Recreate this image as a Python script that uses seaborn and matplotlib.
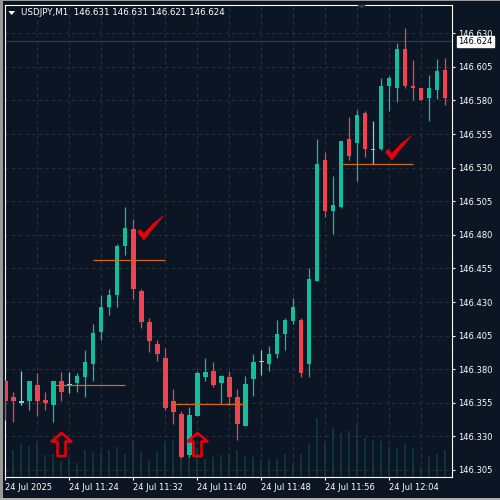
import numpy as np
import pandas as pd
import matplotlib
matplotlib.use('Agg')
import matplotlib.pyplot as plt
from matplotlib.path import Path
from matplotlib.patches import Polygon, Rectangle
import seaborn as sns

# USDJPY M1, 24 Jul 2025 from 11:16
opens = [146.371, 146.359, 146.355, 146.356, 146.368, 146.357, 146.353, 146.371, 146.368, 146.370,
         146.374, 146.384, 146.408, 146.426, 146.435, 146.472, 146.484, 146.438, 146.415, 146.399,
         146.388, 146.356, 146.347, 146.316, 146.345, 146.374, 146.379, 146.370, 146.374, 146.359,
         146.338, 146.373, 146.385, 146.384, 146.391, 146.406, 146.416, 146.417, 146.384, 146.446,
         146.536, 146.498, 146.501, 146.551, 146.548, 146.571, 146.543, 146.544, 146.591, 146.589,
         146.618, 146.591, 146.589, 146.582, 146.588, 146.603]
highs = [146.372, 146.363, 146.379, 146.371, 146.377, 146.363, 146.371, 146.378, 146.378, 146.377,
         146.394, 146.414, 146.435, 146.440, 146.473, 146.501, 146.492, 146.440, 146.418, 146.402,
         146.396, 146.365, 146.349, 146.352, 146.379, 146.388, 146.385, 146.376, 146.379, 146.365,
         146.375, 146.391, 146.394, 146.397, 146.417, 146.418, 146.433, 146.418, 146.455, 146.551,
         146.542, 146.524, 146.550, 146.568, 146.573, 146.572, 146.565, 146.597, 146.598, 146.623,
         146.634, 146.610, 146.589, 146.599, 146.611, 146.612]
lows = [146.342, 146.341, 146.353, 146.350, 146.345, 146.350, 146.341, 146.356, 146.362, 146.363,
        146.359, 146.371, 146.402, 146.420, 146.426, 146.465, 146.432, 146.411, 146.393, 146.386,
        146.350, 146.339, 146.314, 146.315, 146.345, 146.371, 146.367, 146.355, 146.353, 146.327,
        146.338, 146.360, 146.376, 146.379, 146.388, 146.394, 146.414, 146.374, 146.374, 146.446,
        146.493, 146.481, 146.500, 146.536, 146.520, 146.538, 146.533, 146.543, 146.572, 146.579,
        146.589, 146.580, 146.580, 146.565, 146.581, 146.577]
closes = [146.356, 146.356, 146.356, 146.371, 146.356, 146.355, 146.371, 146.363, 146.369, 146.375,
          146.385, 146.407, 146.426, 146.435, 146.472, 146.485, 146.440, 146.415, 146.401, 146.391,
          146.351, 146.348, 146.315, 146.346, 146.377, 146.378, 146.368, 146.375, 146.359, 146.339,
          146.369, 146.385, 146.386, 146.391, 146.406, 146.417, 146.426, 146.377, 146.447, 146.533,
          146.498, 146.502, 146.550, 146.539, 146.569, 146.544, 146.544, 146.591, 146.597, 146.618,
          146.591, 146.589, 146.580, 146.589, 146.602, 146.582]
volumes = [47, 45, 56, 52, 59, 37, 39, 27, 32, 23, 45, 40, 42, 45, 50, 39, 62, 42, 27, 42,
           59, 62, 54, 51, 48, 30, 33, 37, 40, 45, 35, 33, 28, 30, 30, 39, 22, 39, 56, 100,
           59, 83, 74, 78, 90, 66, 62, 61, 52, 49, 56, 49, 18, 35, 39, 45]

x_tick_labels = ['24 Jul 2025', '24 Jul 11:24', '24 Jul 11:32', '24 Jul 11:40',
                 '24 Jul 11:48', '24 Jul 11:56', '24 Jul 12:04']
price_ticks = [146.305, 146.330, 146.355, 146.380, 146.405, 146.430, 146.455,
               146.480, 146.505, 146.530, 146.555, 146.580, 146.605, 146.630]

# current bar shown in the header: O H L C
last_bar = [146.631, 146.631, 146.621, 146.624]

# drawn objects on the chart
level_prices = [146.461, 146.368, 146.354, 146.533]
level_start = [11.0, 6.0, 20.9, 42.1]
level_end = [20.0, 15.0, 30.0, 51.0]
arrow_idx = [7.0, 24.0]
arrow_price = [146.324, 146.324]
check_idx = [18.1, 49.1]
check_price = [146.485, 146.545]

bg = '#0c1524'
grid_col = '#243145'
bull = '#10bf9f'
bear = '#f4414b'
doji = '#6be0d2'
vol_col = '#0e3637'
level_col = '#d0691f'
mark_col = '#e8000b'

df = pd.DataFrame({'open': opens, 'high': highs, 'low': lows,
                   'close': closes, 'volume': volumes})
df['i'] = np.arange(len(df))
diff = df['close'] - df['open']
df['color'] = np.where(diff.abs() < 0.0012, doji, np.where(diff > 0, bull, bear))

sns.set_style('dark', rc={'axes.facecolor': bg, 'figure.facecolor': bg,
                          'axes.edgecolor': 'white', 'text.color': 'white',
                          'xtick.color': 'white', 'ytick.color': 'white'})
plt.rcParams['font.family'] = ['DejaVu Sans']

fig = plt.figure(figsize=(5, 5), dpi=100)
pos = [4.7 / 500, 23.3 / 500, 447.6 / 500, 472 / 500]
xlim = (-0.04, 55.91)

# volume in the background
ax_v = fig.add_axes(pos)
sns.barplot(data=df, x='i', y='volume', native_scale=True, width=0.15,
            color=vol_col, saturation=1, linewidth=0, errorbar=None, ax=ax_v)
ax_v.set_xlim(xlim)
ax_v.set_ylim(0, 802)
ax_v.axis('off')

ax = fig.add_axes(pos)
ax.patch.set_alpha(0)
ax.set_xlim(xlim)
ax.set_ylim(146.300, 146.6513)

for p in price_ticks:
    ax.axhline(p, color=grid_col, lw=0.8, ls=(0, (3, 3)), zorder=1)
for k in range(4, 56, 4):
    ax.axvline(k, color=grid_col, lw=0.8, ls=(0, (3, 3)), zorder=1)

ax.axhline(last_bar[3], color='#2a3850', lw=0.9, zorder=1)

# candles
body_h = np.maximum(diff.abs(), 0.0008)
body_b = np.minimum(df['open'], df['close'])
ax.vlines(df['i'], df['low'], df['high'], colors=df['color'], lw=0.9, zorder=3)
ax.bar(df['i'], body_h, bottom=body_b, width=0.62, color=df['color'], linewidth=0, zorder=4)

for p, a, b in zip(level_prices, level_start, level_end):
    ax.hlines(p, a, b, color=level_col, lw=0.9, zorder=5)

arrow_path = Path([(0, 11.5), (10, 3), (4, 3), (4, -11.5), (-4, -11.5), (-4, 3), (-10, 3), (0, 11.5)],
                  closed=True)
ax.plot(arrow_idx, arrow_price, ls='none', marker=arrow_path, markersize=16.6,
        mfc='none', mec=mark_col, mew=1.8, zorder=6)

check_path = Path([(-13, -3.5), (-10.5, -1), (-6.5, -5), (3, 5), (12.5, 12.5), (0, -3),
                   (-6.5, -11.5), (-13, -3.5)], closed=True)
ax.plot(check_idx, check_price, ls='none', marker=check_path, markersize=18.7,
        mfc=mark_col, mec=mark_col, mew=0.5, zorder=6)

for s in ax.spines.values():
    s.set_color('white')
    s.set_linewidth(0.8)

ax.set_xticks(range(0, 56, 8))
ax.set_xticklabels(x_tick_labels, ha='left')
ax.set_yticks(price_ticks)
ax.set_yticklabels([f'{p:.3f}' for p in price_ticks])
ax.yaxis.tick_right()
ax.tick_params(axis='x', direction='out', length=2.5, width=0.8, labelsize=6, pad=2, bottom=True)
ax.tick_params(axis='y', direction='out', length=2.5, width=0.8, labelsize=6, pad=2,
               right=True, left=False)
ax.grid(False)

ax.text(1.0127, last_bar[3], f'{last_bar[3]:.3f}', transform=ax.get_yaxis_transform(),
        ha='left', va='center', fontsize=6, color='black', zorder=10, clip_on=False,
        bbox=dict(boxstyle='square,pad=0.15', fc='white', ec='white'))

# header
fig.text(20.7 / 500, 1 - 12.7 / 500,
         'USDJPY,M1  ' + ' '.join(f'{v:.3f}' for v in last_bar),
         ha='left', va='center', fontsize=6.3, color='white')
fig.add_artist(Polygon([(8.3 / 500, 1 - 11 / 500), (15 / 500, 1 - 11 / 500), (11.65 / 500, 1 - 15 / 500)],
                       closed=True, transform=fig.transFigure, fc='white', ec='none'))
# chart shift marker
fig.add_artist(Polygon([(357.3 / 500, 1 - 5 / 500), (366 / 500, 1 - 5 / 500), (361.7 / 500, 1 - 8.5 / 500)],
                       closed=True, transform=fig.transFigure, fc='#343d4d', ec='none'))
# window frame
fig.add_artist(Rectangle((0, 0), 2.5 / 500, 1, transform=fig.transFigure, fc='#9a9a9a', ec='none'))
fig.add_artist(Rectangle((0, 1 - 1.3 / 500), 1, 1.3 / 500, transform=fig.transFigure, fc='#9a9a9a', ec='none'))
fig.add_artist(Rectangle((0, 0), 1, 2 / 500, transform=fig.transFigure, fc='#b0b0b0', ec='none'))

fig.savefig('out.png', dpi=100, facecolor=bg)
